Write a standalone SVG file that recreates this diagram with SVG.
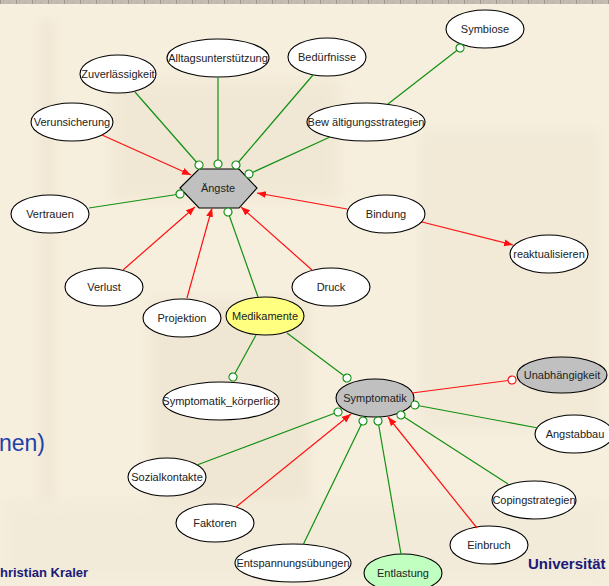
<svg xmlns="http://www.w3.org/2000/svg" width="609" height="586" viewBox="0 0 609 586">
<defs>
<style>
.n{stroke:#000;stroke-width:1.1;fill:#fff}
.g{fill:#c0c0c0}
.t{font-family:"Liberation Sans",Arial,sans-serif;font-size:11px;fill:#222;text-anchor:middle}
.gl{stroke:#119011;stroke-width:1.2;fill:none;marker-end:url(#dot)}
.rl{stroke:#ff1010;stroke-width:1.2;fill:none;marker-end:url(#arr)}
</style>
<filter id="blur" x="-10%" y="-10%" width="120%" height="120%"><feGaussianBlur stdDeviation="6"/></filter>
<marker id="dot" markerUnits="userSpaceOnUse" markerWidth="10" markerHeight="10" refX="5" refY="5" orient="auto">
<circle cx="5" cy="5" r="4" fill="#fff" stroke="#119011" stroke-width="1.2"/>
</marker>
<marker id="dotr" markerUnits="userSpaceOnUse" markerWidth="10" markerHeight="10" refX="5" refY="5" orient="auto">
<circle cx="5" cy="5" r="4" fill="#fff" stroke="#ff1010" stroke-width="1.2"/>
</marker>
<marker id="arr" markerUnits="userSpaceOnUse" markerWidth="10" markerHeight="8" refX="9" refY="3.5" orient="auto">
<path d="M0,0 L9,3.5 L0,7 z" fill="#ff1010"/>
</marker>
<pattern id="chk" width="16" height="4" patternUnits="userSpaceOnUse">
<rect width="16" height="4" fill="#c2bcb1"/>
<rect x="0" y="0" width="1" height="4" fill="#9e988d"/>
<rect x="3" y="1" width="1" height="1" fill="#aaa49a"/>
<rect x="8" y="2" width="1" height="1" fill="#aaa49a"/>
</pattern>
</defs>
<rect width="609" height="586" fill="#f7efde"/>
<g opacity="0.55" filter="url(#blur)">
<rect x="40" y="20" width="14" height="560" fill="#e9dfcb"/>
<rect x="110" y="80" width="230" height="120" fill="#ece2ce"/>
<rect x="150" y="300" width="160" height="200" fill="#e9dfcb"/>
<rect x="420" y="130" width="180" height="300" fill="#eee5d2"/>
<rect x="0" y="500" width="609" height="86" fill="#f1e9d7"/>
</g>
<rect width="609" height="4" fill="url(#chk)"/>
<text x="-1" y="451" font-family="Liberation Sans,Arial,sans-serif" font-size="23" fill="#2040a8">nen)</text>
<text x="0" y="577" font-family="Liberation Sans,Arial,sans-serif" font-size="13" font-weight="bold" fill="#1a1a78">hristian Kraler</text>
<text x="528" y="569" font-family="Liberation Sans,Arial,sans-serif" font-size="15" font-weight="bold" fill="#1a1a78">Universität</text>

<g id="n-angste"><polygon class="n g" points="180,188 199,169 239,169 257,188 239,208 199,208"/><text class="t" x="218" y="192">Ängste</text></g>
<g id="n-zuv"><ellipse class="n" cx="118" cy="74" rx="38" ry="19"/><text class="t" x="118" y="78">Zuverlässigkeit</text></g>
<g id="n-alltag"><ellipse class="n" cx="218" cy="58" rx="51" ry="19"/><text class="t" x="218" y="62">Alltagsunterstützung</text></g>
<g id="n-bed"><ellipse class="n" cx="327" cy="57" rx="39" ry="19"/><text class="t" x="327" y="61">Bedürfnisse</text></g>
<g id="n-verun"><ellipse class="n" cx="72" cy="122" rx="41" ry="19"/><text class="t" x="72" y="126">Verunsicherung</text></g>
<g id="n-symb"><ellipse class="n" cx="485" cy="29" rx="39" ry="19"/><text class="t" x="485" y="33">Symbiose</text></g>
<g id="n-bew"><ellipse class="n" cx="366" cy="122" rx="59" ry="19"/><text class="t" x="366" y="126">Bew ältigungsstrategien</text></g>
<g id="n-vertr"><ellipse class="n" cx="50" cy="214" rx="39" ry="19"/><text class="t" x="50" y="218">Vertrauen</text></g>
<g id="n-verl"><ellipse class="n" cx="104" cy="287" rx="39" ry="19"/><text class="t" x="104" y="291">Verlust</text></g>
<g id="n-proj"><ellipse class="n" cx="182" cy="318" rx="39" ry="19"/><text class="t" x="182" y="322">Projektion</text></g>
<g id="n-med"><ellipse class="n" cx="265" cy="316" rx="39" ry="19" style="fill:#ffff80"/><text class="t" x="265" y="320">Medikamente</text></g>
<g id="n-druck"><ellipse class="n" cx="331" cy="287" rx="39" ry="19"/><text class="t" x="331" y="291">Druck</text></g>
<g id="n-bind"><ellipse class="n" cx="386" cy="214" rx="39" ry="19"/><text class="t" x="386" y="218">Bindung</text></g>
<g id="n-reakt"><ellipse class="n" cx="549" cy="254" rx="39" ry="19"/><text class="t" x="549" y="258">reaktualisieren</text></g>
<g id="n-unab"><ellipse class="n g" cx="562" cy="375" rx="45" ry="18"/><text class="t" x="562" y="379">Unabhängigkeit</text></g>
<g id="n-sympt"><ellipse class="n g" cx="375" cy="398" rx="39" ry="19"/><text class="t" x="375" y="402">Symptomatik</text></g>
<g id="n-symk"><ellipse class="n" cx="221" cy="401" rx="58" ry="19"/><text class="t" x="221" y="405">Symptomatik_körperlich</text></g>
<g id="n-angstab"><ellipse class="n" cx="574" cy="434" rx="39" ry="19"/><text class="t" x="575" y="438">Angstabbau</text></g>
<g id="n-sozial"><ellipse class="n" cx="167" cy="477" rx="39" ry="19"/><text class="t" x="167" y="481">Sozialkontakte</text></g>
<g id="n-coping"><ellipse class="n" cx="534" cy="500" rx="42" ry="19"/><text class="t" x="534" y="504">Copingstrategien</text></g>
<g id="n-fakt"><ellipse class="n" cx="215" cy="523" rx="39" ry="19"/><text class="t" x="215" y="527">Faktoren</text></g>
<g id="n-einb"><ellipse class="n" cx="489" cy="545" rx="39" ry="19"/><text class="t" x="489" y="549">Einbruch</text></g>
<g id="n-entsp"><ellipse class="n" cx="293" cy="563" rx="58" ry="19"/><text class="t" x="293" y="567">Entspannungsübungen</text></g>
<g id="n-entl"><ellipse class="n" cx="403" cy="573" rx="39" ry="19" style="fill:#c0ffc0"/><text class="t" x="403" y="577">Entlastung</text></g>

<g id="connectors">
<path class="gl" d="M135,92 L199,165"/>
<path class="gl" d="M218,77 L218,164"/>
<path class="gl" d="M313,75 L236,165"/>
<path class="gl" d="M330,137 L249,174"/>
<path class="gl" d="M388,104 L460,48"/>
<path class="gl" d="M89,208 L180,194"/>
<path class="gl" d="M258,297 L228,212"/>
<path class="gl" d="M256,335 L233,377"/>
<path class="gl" d="M287,333 L347,378"/>
<path class="gl" d="M538,428 L415,405"/>
<path class="gl" d="M508,484 L401,415"/>
<path class="gl" d="M401,554 L378,421"/>
<path class="gl" d="M303,545 L363,421"/>
<path class="gl" d="M197,465 L338,412"/>
<path class="rl" d="M102,135 L191,175"/>
<path class="rl" d="M123,270 L195,207"/>
<path class="rl" d="M187,298 L212,208"/>
<path class="rl" d="M312,270 L241,207"/>
<path class="rl" d="M347,209 L257,193"/>
<path class="rl" d="M422,222 L513,245"/>
<path class="rl" d="M477,528 L388,417"/>
<path class="rl" d="M236,507 L351,414"/>
<path d="M412,393 L512,380" stroke="#ff1010" stroke-width="1.2" fill="none" marker-end="url(#dotr)"/>
</g>
</svg>
